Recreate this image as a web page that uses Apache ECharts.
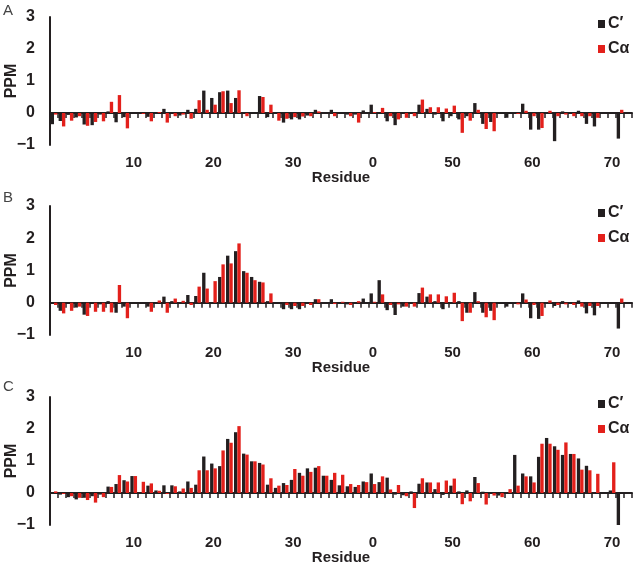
<!DOCTYPE html>
<html>
<head>
<meta charset="utf-8">
<script src="https://cdn.jsdelivr.net/npm/echarts@6/dist/echarts.min.js"></script>
<style>
html,body{margin:0;padding:0;background:#fff;}
#chart{width:637px;height:565px;}
</style>
</head>
<body>
<div id="chart"></div>
<script>
// Residue categories (index = residue number as plotted)
var residues = [];
for (var r = 0; r <= 72; r++) residues.push(String(r));
// Tick labels shown on the residue axis (as printed in the figure)
var tickPositions = [10, 20, 30, 40, 50, 60, 70];
var tickLabels = ['10', '20', '30', '0', '50', '60', '70'];
var seriesNames = ['C\u2032', 'C\u03b1'];
var panelLetters = ['A', 'B', 'C'];

// Panel A
var aCprime = [-0.35,-0.25,-0.06,-0.14,-0.36,-0.38,-0.05,0.05,-0.29,-0.13,
  -0.03,0,-0.12,0,0.13,0,-0.08,0.1,0.13,0.7,
  0.47,0.65,0.7,0.47,0,-0.02,0.53,-0.13,0,-0.3,
  -0.2,-0.2,-0.08,0.1,0,0.1,0,-0.05,-0.05,0.08,
  0.26,0,-0.26,-0.38,0,0,0.26,0.13,-0.05,-0.26,
  -0.1,-0.2,-0.1,0.31,-0.34,-0.28,0,-0.15,0,0.29,
  -0.52,-0.52,0,-0.88,0.05,-0.03,0.07,-0.34,-0.42,0,
  0,-0.8,0];
var aCalpha = [-0.05,-0.42,-0.24,-0.1,-0.4,-0.28,-0.26,0.35,0.56,-0.48,
  0,-0.03,-0.26,0.03,-0.3,-0.1,-0.05,-0.18,0.4,0.1,
  0.26,0.68,0.31,0.71,-0.1,0,0.5,0.26,-0.24,-0.18,
  -0.13,-0.11,-0.1,0.05,0,-0.1,0,-0.1,-0.3,0,
  0.03,0.16,-0.1,-0.2,-0.15,-0.1,0.42,0.18,0.18,0.14,
  0.23,-0.62,-0.24,0.1,-0.5,-0.57,0,0,-0.03,0.07,
  -0.1,-0.47,0.07,-0.1,-0.05,-0.1,-0.1,-0.1,-0.15,0,
  0,0.1,0];
// Panel B
var bCprime = [0,-0.25,-0.03,-0.15,-0.37,0,-0.05,0.05,-0.31,-0.12,
  0,0,-0.12,0,0.19,0.05,0,0.24,0.21,0.93,
  0,0.8,1.46,1.6,0.98,0.8,0.65,0.05,-0.03,-0.2,
  -0.2,-0.2,0,0.11,0,0.11,0,-0.05,0,0.13,
  0.29,0.7,-0.23,-0.38,-0.12,0,0.3,0.19,0.05,-0.2,
  0,0.05,-0.31,0.33,-0.31,-0.25,0,-0.12,0,0.29,
  -0.48,-0.5,0,-0.1,0.05,0,0.07,-0.33,-0.39,0,
  0,-0.8,0];
var bCalpha = [-0.07,-0.33,-0.25,-0.12,-0.41,-0.28,-0.28,-0.3,0.55,-0.48,
  0,0,-0.28,0.07,-0.31,0.13,0.06,-0.07,0.5,0.44,
  0.67,1.19,1.22,1.84,0.93,0.7,0.63,0.29,0,-0.07,
  -0.1,-0.1,-0.07,0.11,0,-0.04,0.03,-0.07,0.05,0,
  0.03,0.26,-0.07,-0.05,-0.12,-0.12,0.47,0.26,0.26,0.2,
  0.31,-0.57,-0.31,0.05,-0.45,-0.54,0,0,-0.05,0.1,
  -0.07,-0.41,0.07,-0.07,-0.05,-0.07,-0.12,-0.1,-0.1,0,
  0,0.13,0];
// Panel C
var cCprime = [0,-0.05,-0.13,-0.2,-0.15,-0.1,-0.05,0.2,0.28,0.4,
  0.53,0,0.23,0.08,0.24,0.24,0.05,0.36,0.26,1.14,
  0.92,0.84,1.69,1.9,1.23,0.99,0.94,0.26,0.16,0.31,
  0.41,0.63,0.77,0.79,0.54,0.41,0.24,0.21,0.19,0.36,
  0.61,0.34,0.48,-0.05,-0.07,0.05,0.29,0.33,0.12,-0.06,
  0.23,0.05,0.08,0.5,0.04,0,-0.08,0,1.19,0.61,
  0.52,1.13,1.72,1.46,1.19,1.22,1.08,0.85,0,0,
  0.08,-1.04,0];
var cCalpha = [0.05,-0.03,-0.1,-0.15,-0.22,-0.3,-0.13,0.19,0.56,0.36,
  0.53,0.35,0.3,0.07,-0.03,0.21,0.14,0.16,0.71,0.71,
  0.77,1.33,1.57,2.09,1.2,0.99,0.89,0.46,0.23,0.25,
  0.75,0.54,0.66,0.84,0.54,0.63,0.57,0.28,0.25,0.34,
  0.28,0.52,0.11,0.25,-0.1,-0.47,0.46,0.33,0.33,0.39,
  0.45,-0.35,-0.26,0.31,-0.36,-0.08,-0.13,0.12,0.23,0.52,
  0.33,1.54,1.54,1.35,1.58,1.22,0.73,0.71,0.6,0,
  0.96,0,0];

var panels = [[aCprime, aCalpha], [bCprime, bCalpha], [cCprime, cCalpha]];
var colors = ['#231f20', '#e3201b'];
var FONT = '"Liberation Sans", Arial, sans-serif';
var TXT = '#231f20';
var gridTops = [17, 206, 397];
var gridHeights = [128, 129, 128];
var letterTops = [3, 190, 379];

var grids = [], xAxes = [], yAxes = [], series = [], legends = [], titles = [];
panels.forEach(function (p, i) {
  grids.push({left: 50, right: 5, top: gridTops[i], height: gridHeights[i],
    containLabel: false, outerBoundsMode: 'none'});
  // axis line at zero with boundary ticks
  xAxes.push({
    type: 'category', gridIndex: i, data: residues, position: 'bottom',
    axisLine: {show: true, onZero: true, lineStyle: {color: TXT, width: 2}},
    axisTick: {show: true, interval: 0, length: 5, lineStyle: {color: TXT, width: 1.5}},
    axisLabel: {show: false}, splitLine: {show: false}
  });
  // labels and name at bottom
  xAxes.push({
    type: 'category', gridIndex: i, data: residues, position: 'bottom',
    axisLine: {show: false, onZero: false}, axisTick: {show: false},
    axisLabel: {
      show: true, margin: 10, color: TXT, fontFamily: FONT, fontWeight: 'bold', fontSize: 15,
      interval: function (idx) { return tickPositions.indexOf(idx) >= 0; },
      formatter: function (v, idx) { var k = tickPositions.indexOf(idx); return k >= 0 ? tickLabels[k] : ''; }
    },
    name: 'Residue', nameLocation: 'middle', nameGap: 25, nameMoveOverlap: false,
    nameTextStyle: {color: TXT, fontFamily: FONT, fontWeight: 'bold', fontSize: 15}
  });
  yAxes.push({
    type: 'value', gridIndex: i, min: -1, max: 3, interval: 1,
    axisLine: {show: true, lineStyle: {color: TXT, width: 2}},
    axisTick: {show: false}, splitLine: {show: false},
    axisLabel: {
      color: TXT, fontFamily: FONT, fontWeight: 'bold', fontSize: 16, margin: 15,
      formatter: function (v) { return v < 0 ? '\u2212' + (-v) : String(v); }
    },
    name: 'PPM', nameLocation: 'middle', nameGap: 30, nameRotate: 90, nameMoveOverlap: false,
    nameTextStyle: {color: TXT, fontFamily: FONT, fontWeight: 'bold', fontSize: 16}
  });
  p.forEach(function (vals, s) {
    series.push({
      type: 'bar', name: seriesNames[s], xAxisIndex: 2 * i, yAxisIndex: i,
      data: vals, itemStyle: {color: colors[s]},
      barGap: '0%', barCategoryGap: '16%', animation: false
    });
  });
  legends.push({
    data: seriesNames, orient: 'vertical', left: 593, top: gridTops[i] - 6,
    icon: 'rect', itemWidth: 7, itemHeight: 8, itemGap: 9,
    textStyle: {color: TXT, fontFamily: FONT, fontWeight: 'bold', fontSize: 16, padding: [0, 0, 0, -2]}
  });
  titles.push({
    text: panelLetters[i], left: 3, top: letterTops[i], padding: 0,
    textStyle: {color: '#444', fontFamily: FONT, fontWeight: 'normal', fontSize: 15}
  });
});

var chart = echarts.init(document.getElementById('chart'), null, {renderer: 'canvas'});
chart.setOption({
  animation: false,
  backgroundColor: '#fff',
  color: colors,
  title: titles,
  legend: legends,
  grid: grids,
  xAxis: xAxes,
  yAxis: yAxes,
  series: series
});
</script>
</body>
</html>
